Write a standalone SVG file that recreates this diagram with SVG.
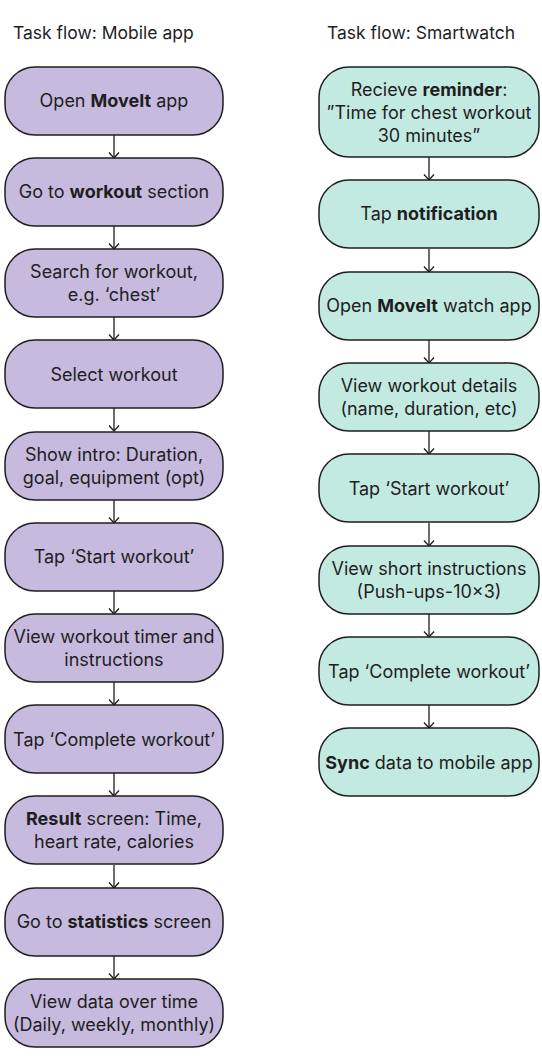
<svg xmlns="http://www.w3.org/2000/svg" width="542" height="1060" viewBox="0 0 542 1060">
<style>
text{font-family:Inter,"Noto Sans","Liberation Sans",sans-serif;font-size:18px;fill:#1e1e1e;text-anchor:middle}
.title{text-anchor:start;font-size:17.5px}
.b{font-weight:700}
.p{fill:#c6badf;stroke:#1e1e1e;stroke-width:1.5}
.t{fill:#c3eae1;stroke:#1e1e1e;stroke-width:1.5}
.c{stroke:#1e1e1e;stroke-width:1.3;fill:none}
</style>
<defs>
<marker id="ah" viewBox="0 0 8 12" refX="7" refY="6" markerWidth="8" markerHeight="12" markerUnits="userSpaceOnUse" orient="auto">
<path d="M1.5,1 L7,6 L1.5,11" fill="none" stroke="#1e1e1e" stroke-width="1.3"/>
</marker>
</defs>
<rect width="542" height="1060" fill="#ffffff"/>
<text class="title" x="13" y="39">Task flow: Mobile app</text>
<text class="title" x="327" y="39">Task flow: Smartwatch</text>

<g id="connectors">
<line class="c" x1="114" y1="135" x2="114" y2="158" marker-end="url(#ah)"/>
<line class="c" x1="114" y1="226" x2="114" y2="249" marker-end="url(#ah)"/>
<line class="c" x1="114" y1="317" x2="114" y2="340" marker-end="url(#ah)"/>
<line class="c" x1="114" y1="408" x2="114" y2="431" marker-end="url(#ah)"/>
<line class="c" x1="114" y1="500" x2="114" y2="523" marker-end="url(#ah)"/>
<line class="c" x1="114" y1="591" x2="114" y2="614" marker-end="url(#ah)"/>
<line class="c" x1="114" y1="682" x2="114" y2="705" marker-end="url(#ah)"/>
<line class="c" x1="114" y1="773" x2="114" y2="796" marker-end="url(#ah)"/>
<line class="c" x1="114" y1="865" x2="114" y2="888" marker-end="url(#ah)"/>
<line class="c" x1="114" y1="956" x2="114" y2="979" marker-end="url(#ah)"/>

<line class="c" x1="429" y1="157" x2="429" y2="180" marker-end="url(#ah)"/>
<line class="c" x1="429" y1="249" x2="429" y2="272" marker-end="url(#ah)"/>
<line class="c" x1="429" y1="340" x2="429" y2="363" marker-end="url(#ah)"/>
<line class="c" x1="429" y1="431" x2="429" y2="454" marker-end="url(#ah)"/>
<line class="c" x1="429" y1="523" x2="429" y2="546" marker-end="url(#ah)"/>
<line class="c" x1="429" y1="614" x2="429" y2="637" marker-end="url(#ah)"/>
<line class="c" x1="429" y1="705" x2="429" y2="728" marker-end="url(#ah)"/>
</g>

<g id="m1"><rect class="p" x="5" y="67" width="218" height="68" rx="30"/><text x="114" y="107">Open <tspan class="b">MoveIt</tspan> app</text></g>
<g id="m2"><rect class="p" x="5" y="158" width="218" height="68" rx="30"/><text x="114" y="198">Go to <tspan class="b">workout</tspan> section</text></g>
<g id="m3"><rect class="p" x="5" y="249" width="218" height="68" rx="30"/><text x="114" y="278">Search for workout,</text><text x="114" y="301">e.g. ‘chest’</text></g>
<g id="m4"><rect class="p" x="5" y="340" width="218" height="68" rx="30"/><text x="114" y="381">Select workout</text></g>
<g id="m5"><rect class="p" x="5" y="432" width="218" height="68" rx="30"/><text x="114" y="461">Show intro: Duration,</text><text x="114" y="484">goal, equipment (opt)</text></g>
<g id="m6"><rect class="p" x="5" y="523" width="218" height="68" rx="30"/><text x="114" y="563">Tap ‘Start workout’</text></g>
<g id="m7"><rect class="p" x="5" y="614" width="218" height="68" rx="30"/><text x="114" y="643">View workout timer and</text><text x="114" y="666">instructions</text></g>
<g id="m8"><rect class="p" x="5" y="705" width="218" height="68" rx="30"/><text x="114" y="746">Tap ‘Complete workout’</text></g>
<g id="m9"><rect class="p" x="5" y="796" width="218" height="68" rx="30"/><text x="114" y="825"><tspan class="b">Result</tspan> screen: Time,</text><text x="114" y="848">heart rate, calories</text></g>
<g id="m10"><rect class="p" x="5" y="888" width="218" height="68" rx="30"/><text x="114" y="928">Go to <tspan class="b">statistics</tspan> screen</text></g>
<g id="m11"><rect class="p" x="5" y="979" width="218" height="68" rx="30"/><text x="114" y="1008">View data over time</text><text x="114" y="1031">(Daily, weekly, monthly)</text></g>

<g id="w1"><rect class="t" x="319" y="67" width="220" height="90" rx="30"/><text x="429" y="96">Recieve <tspan class="b">reminder</tspan>:</text><text x="429" y="119">”Time for chest workout</text><text x="429" y="142">30 minutes”</text></g>
<g id="w2"><rect class="t" x="319" y="180" width="220" height="68" rx="30"/><text x="429" y="220">Tap <tspan class="b">notification</tspan></text></g>
<g id="w3"><rect class="t" x="319" y="272" width="220" height="68" rx="30"/><text x="429" y="312">Open <tspan class="b">MoveIt</tspan> watch app</text></g>
<g id="w4"><rect class="t" x="319" y="363" width="220" height="68" rx="30"/><text x="429" y="392">View workout details</text><text x="429" y="415">(name, duration, etc)</text></g>
<g id="w5"><rect class="t" x="319" y="454" width="220" height="68" rx="30"/><text x="429" y="495">Tap ‘Start workout’</text></g>
<g id="w6"><rect class="t" x="319" y="546" width="220" height="68" rx="30"/><text x="429" y="575">View short instructions</text><text x="429" y="598">(Push-ups-10×3)</text></g>
<g id="w7"><rect class="t" x="319" y="637" width="220" height="68" rx="30"/><text x="429" y="678">Tap ‘Complete workout’</text></g>
<g id="w8"><rect class="t" x="319" y="728" width="220" height="68" rx="30"/><text x="429" y="769"><tspan class="b">Sync</tspan> data to mobile app</text></g>
</svg>
